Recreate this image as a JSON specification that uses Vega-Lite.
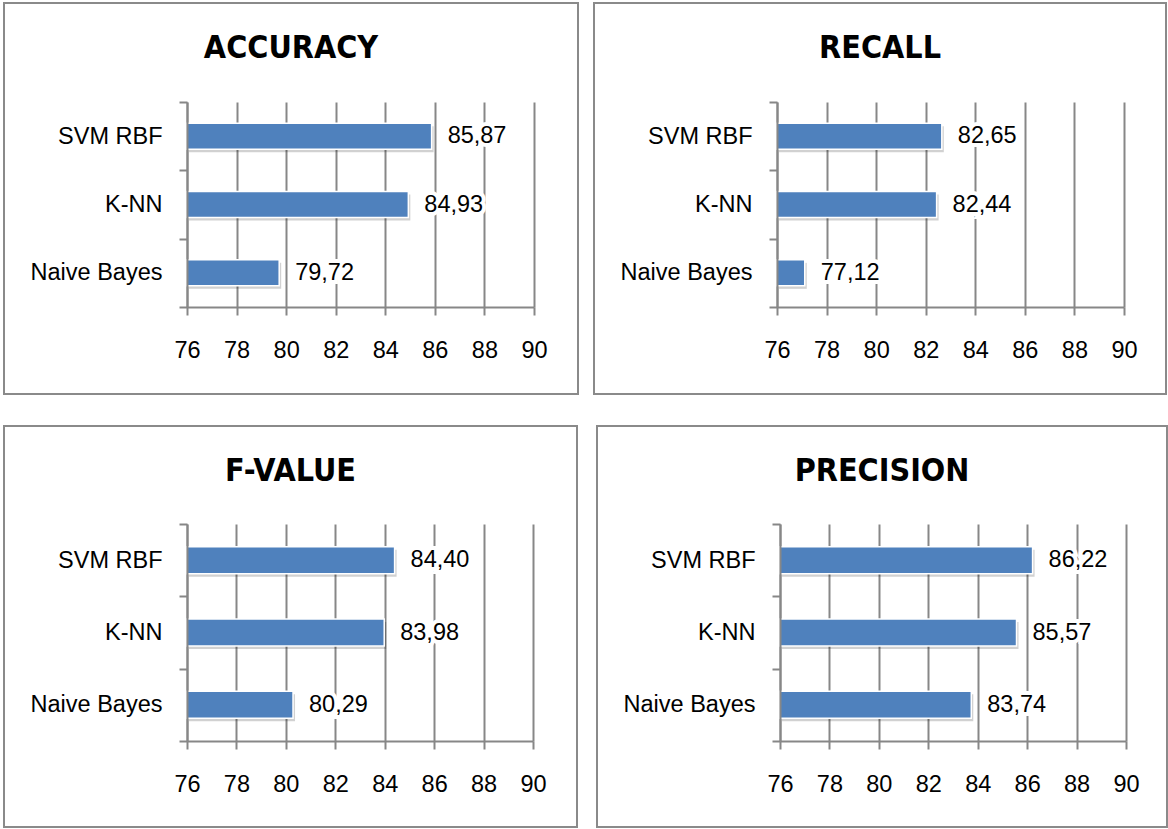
{
  "$schema": "https://vega.github.io/schema/vega-lite/v6.json",
  "padding": {"left": 3, "top": -10, "right": 0, "bottom": 0},
  "background": "white",
  "datasets": {
    "scores": [
      {"metric": "ACCURACY", "model": "SVM RBF", "value": 85.87},
      {"metric": "ACCURACY", "model": "K-NN", "value": 84.93},
      {"metric": "ACCURACY", "model": "Naive Bayes", "value": 79.72},
      {"metric": "RECALL", "model": "SVM RBF", "value": 82.65},
      {"metric": "RECALL", "model": "K-NN", "value": 82.44},
      {"metric": "RECALL", "model": "Naive Bayes", "value": 77.12},
      {"metric": "F-VALUE", "model": "SVM RBF", "value": 84.40},
      {"metric": "F-VALUE", "model": "K-NN", "value": 83.98},
      {"metric": "F-VALUE", "model": "Naive Bayes", "value": 80.29},
      {"metric": "PRECISION", "model": "SVM RBF", "value": 86.22},
      {"metric": "PRECISION", "model": "K-NN", "value": 85.57},
      {"metric": "PRECISION", "model": "Naive Bayes", "value": 83.74}
    ]
  },
  "spacing": 18,
  "vconcat": [
    {
      "spacing": 14,
      "hconcat": [
        {
          "width": 574, "height": 391,
          "title": {"text": "ACCURACY"},
          "data": {"name": "scores"},
          "transform": [{"filter": "datum.metric === 'ACCURACY'"}],
          "resolve": {"axis": {"x": "independent"}},
          "encoding": {
            "y": {"field": "model", "type": "nominal", "sort": ["SVM RBF", "K-NN", "Naive Bayes"],
                  "scale": {"range": [99, 304], "paddingInner": 0, "paddingOuter": 0},
                  "axis": {"orient": "left", "offset": -183, "title": null, "tickBand": "extent", "zindex": 1, "tickSize": 8, "labelPadding": 17}},
            "x": {"field": "value", "type": "quantitative",
                  "scale": {"domain": [76, 90], "range": [183, 530], "zero": false, "nice": false},
                  "axis": {"orient": "bottom", "offset": -87, "title": null, "values": [76, 78, 80, 82, 84, 86, 88, 90], "tickSize": -205, "labelPadding": 236, "grid": false}}
          },
          "layer": [
            {"mark": {"type": "bar", "size": 26, "color": "#000000", "opacity": 0.18, "yOffset": 3, "xOffset": 2, "x2Offset": 2}, "encoding": {"x2": {"datum": 76}}},
            {"mark": {"type": "bar", "size": 26, "color": "#4f81bd", "stroke": "white", "strokeWidth": 1.5},
             "encoding": {"x": {"field": "value", "type": "quantitative", "axis": null}, "x2": {"datum": 76}}},
            {"mark": {"type": "text", "align": "left", "baseline": "middle", "dx": 16, "fontSize": 23.5, "fill": "white", "stroke": "white", "strokeWidth": 8},
             "encoding": {"x": {"field": "value", "type": "quantitative", "axis": null}, "text": {"field": "value", "type": "quantitative", "format": ".2f"}}},
            {"mark": {"type": "text", "align": "left", "baseline": "middle", "dx": 16, "fontSize": 23.5, "color": "black"},
             "encoding": {"text": {"field": "value", "type": "quantitative", "format": ".2f"},
                          "x": {"field": "value", "type": "quantitative", "axis": {"orient": "bottom", "offset": -87, "title": null, "values": [76, 78, 80, 82, 84, 86, 88, 90], "tickSize": 8, "labels": false, "domain": false, "grid": false}}}}
          ]
        },
        {
          "width": 572, "height": 391,
          "title": {"text": "RECALL"},
          "data": {"name": "scores"},
          "transform": [{"filter": "datum.metric === 'RECALL'"}],
          "resolve": {"axis": {"x": "independent"}},
          "encoding": {
            "y": {"field": "model", "type": "nominal", "sort": ["SVM RBF", "K-NN", "Naive Bayes"],
                  "scale": {"range": [99, 304], "paddingInner": 0, "paddingOuter": 0},
                  "axis": {"orient": "left", "offset": -183, "title": null, "tickBand": "extent", "zindex": 1, "tickSize": 8, "labelPadding": 17}},
            "x": {"field": "value", "type": "quantitative",
                  "scale": {"domain": [76, 90], "range": [183, 530], "zero": false, "nice": false},
                  "axis": {"orient": "bottom", "offset": -87, "title": null, "values": [76, 78, 80, 82, 84, 86, 88, 90], "tickSize": -205, "labelPadding": 236, "grid": false}}
          },
          "layer": [
            {"mark": {"type": "bar", "size": 26, "color": "#000000", "opacity": 0.18, "yOffset": 3, "xOffset": 2, "x2Offset": 2}, "encoding": {"x2": {"datum": 76}}},
            {"mark": {"type": "bar", "size": 26, "color": "#4f81bd", "stroke": "white", "strokeWidth": 1.5},
             "encoding": {"x": {"field": "value", "type": "quantitative", "axis": null}, "x2": {"datum": 76}}},
            {"mark": {"type": "text", "align": "left", "baseline": "middle", "dx": 16, "fontSize": 23.5, "fill": "white", "stroke": "white", "strokeWidth": 8},
             "encoding": {"x": {"field": "value", "type": "quantitative", "axis": null}, "text": {"field": "value", "type": "quantitative", "format": ".2f"}}},
            {"mark": {"type": "text", "align": "left", "baseline": "middle", "dx": 16, "fontSize": 23.5, "color": "black"},
             "encoding": {"text": {"field": "value", "type": "quantitative", "format": ".2f"},
                          "x": {"field": "value", "type": "quantitative", "axis": {"orient": "bottom", "offset": -87, "title": null, "values": [76, 78, 80, 82, 84, 86, 88, 90], "tickSize": 8, "labels": false, "domain": false, "grid": false}}}}
          ]
        }
      ]
    },
    {
      "spacing": 18,
      "hconcat": [
        {
          "width": 573, "height": 401,
          "title": {"text": "F-VALUE"},
          "data": {"name": "scores"},
          "transform": [{"filter": "datum.metric === 'F-VALUE'"}],
          "resolve": {"axis": {"x": "independent"}},
          "encoding": {
            "y": {"field": "model", "type": "nominal", "sort": ["SVM RBF", "K-NN", "Naive Bayes"],
                  "scale": {"range": [98, 315], "paddingInner": 0, "paddingOuter": 0},
                  "axis": {"orient": "left", "offset": -183, "title": null, "tickBand": "extent", "zindex": 1, "tickSize": 8, "labelPadding": 17}},
            "x": {"field": "value", "type": "quantitative",
                  "scale": {"domain": [76, 90], "range": [183, 529], "zero": false, "nice": false},
                  "axis": {"orient": "bottom", "offset": -86, "title": null, "values": [76, 78, 80, 82, 84, 86, 88, 90], "tickSize": -217, "labelPadding": 248, "grid": false}}
          },
          "layer": [
            {"mark": {"type": "bar", "size": 27, "color": "#000000", "opacity": 0.18, "yOffset": 3, "xOffset": 2, "x2Offset": 2}, "encoding": {"x2": {"datum": 76}}},
            {"mark": {"type": "bar", "size": 27, "color": "#4f81bd", "stroke": "white", "strokeWidth": 1.5},
             "encoding": {"x": {"field": "value", "type": "quantitative", "axis": null}, "x2": {"datum": 76}}},
            {"mark": {"type": "text", "align": "left", "baseline": "middle", "dx": 16, "fontSize": 23.5, "fill": "white", "stroke": "white", "strokeWidth": 8},
             "encoding": {"x": {"field": "value", "type": "quantitative", "axis": null}, "text": {"field": "value", "type": "quantitative", "format": ".2f"}}},
            {"mark": {"type": "text", "align": "left", "baseline": "middle", "dx": 16, "fontSize": 23.5, "color": "black"},
             "encoding": {"text": {"field": "value", "type": "quantitative", "format": ".2f"},
                          "x": {"field": "value", "type": "quantitative", "axis": {"orient": "bottom", "offset": -86, "title": null, "values": [76, 78, 80, 82, 84, 86, 88, 90], "tickSize": 8, "labels": false, "domain": false, "grid": false}}}}
          ]
        },
        {
          "width": 570, "height": 401,
          "title": {"text": "PRECISION"},
          "data": {"name": "scores"},
          "transform": [{"filter": "datum.metric === 'PRECISION'"}],
          "resolve": {"axis": {"x": "independent"}},
          "encoding": {
            "y": {"field": "model", "type": "nominal", "sort": ["SVM RBF", "K-NN", "Naive Bayes"],
                  "scale": {"range": [98, 315], "paddingInner": 0, "paddingOuter": 0},
                  "axis": {"orient": "left", "offset": -183, "title": null, "tickBand": "extent", "zindex": 1, "tickSize": 8, "labelPadding": 17}},
            "x": {"field": "value", "type": "quantitative",
                  "scale": {"domain": [76, 90], "range": [183, 529], "zero": false, "nice": false},
                  "axis": {"orient": "bottom", "offset": -86, "title": null, "values": [76, 78, 80, 82, 84, 86, 88, 90], "tickSize": -217, "labelPadding": 248, "grid": false}}
          },
          "layer": [
            {"mark": {"type": "bar", "size": 27, "color": "#000000", "opacity": 0.18, "yOffset": 3, "xOffset": 2, "x2Offset": 2}, "encoding": {"x2": {"datum": 76}}},
            {"mark": {"type": "bar", "size": 27, "color": "#4f81bd", "stroke": "white", "strokeWidth": 1.5},
             "encoding": {"x": {"field": "value", "type": "quantitative", "axis": null}, "x2": {"datum": 76}}},
            {"mark": {"type": "text", "align": "left", "baseline": "middle", "dx": 16, "fontSize": 23.5, "fill": "white", "stroke": "white", "strokeWidth": 8},
             "encoding": {"x": {"field": "value", "type": "quantitative", "axis": null}, "text": {"field": "value", "type": "quantitative", "format": ".2f"}}},
            {"mark": {"type": "text", "align": "left", "baseline": "middle", "dx": 16, "fontSize": 23.5, "color": "black"},
             "encoding": {"text": {"field": "value", "type": "quantitative", "format": ".2f"},
                          "x": {"field": "value", "type": "quantitative", "axis": {"orient": "bottom", "offset": -86, "title": null, "values": [76, 78, 80, 82, 84, 86, 88, 90], "tickSize": 8, "labels": false, "domain": false, "grid": false}}}}
          ]
        }
      ]
    }
  ],
  "config": {
    "locale": {"number": {"decimal": ",", "thousands": ".", "grouping": [3], "currency": ["", " €"]}},
    "view": {"stroke": "#8a8a8a", "strokeWidth": 2},
    "font": "Liberation Sans",
    "text": {"font": "Liberation Sans"},
    "axis": {
      "domainColor": "#878787", "domainWidth": 2,
      "tickColor": "#878787", "tickWidth": 2,
      "labelFont": "Liberation Sans", "labelFontSize": 23.5, "labelColor": "black",
      "labelOverlap": false, "labelFlush": false
    },
    "title": {
      "font": "Liberation Sans Narrow, DejaVu Sans Condensed, sans-serif",
      "fontSize": 32, "fontWeight": "bold", "color": "black",
      "anchor": "middle", "offset": -43, "dy": 31, "baseline": "middle"
    }
  }
}
